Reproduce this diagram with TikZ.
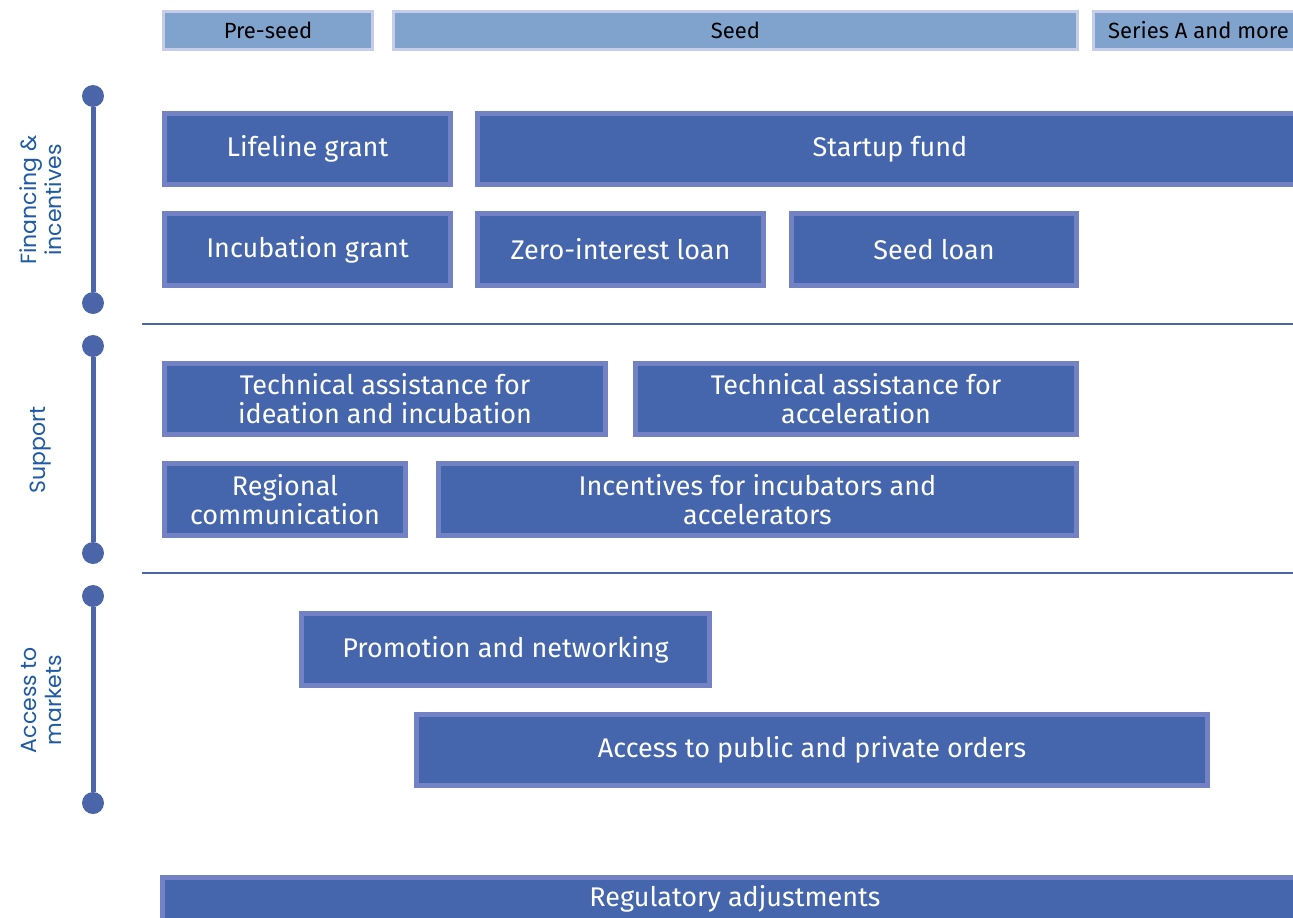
\documentclass[tikz,border=0pt]{standalone}
\usepackage{fontspec}
\setmainfont{Fira Sans}
\newfontfamily\sidefont{Poppins}

\definecolor{boxfill}{RGB}{69,102,172}
\definecolor{boxline}{RGB}{114,130,196}
\definecolor{stagefill}{RGB}{127,163,205}
\definecolor{stageline}{RGB}{197,205,234}
\definecolor{barcol}{RGB}{74,101,168}
\definecolor{labcol}{RGB}{31,90,166}

\tikzset{
  every picture/.style={line width=0.75pt},
  measure/.style={draw=boxline, fill=boxfill, line width=5pt, text=white, align=center,
    inner sep=0pt, font=\fontsize{27}{29}\selectfont},
  stage/.style={draw=stageline, fill=stagefill, line width=3pt, text=black, align=center,
    inner sep=0pt, font=\fontsize{22}{25}\selectfont},
  dot/.style={circle, fill=barcol, inner sep=0pt, minimum size=22pt},
  bar/.style={draw=barcol, line width=5pt},
  sep/.style={draw=barcol, line width=2pt},
  pillar/.style={text=labcol, align=center, rotate=90, font=\sidefont\fontsize{22}{25}\selectfont}
}

\begin{document}
\begin{tikzpicture}[x=1pt,y=1pt,yscale=-1]
\clip (0,0) rectangle (1293,918);
\useasboundingbox (0,0) rectangle (1293,918);

% stages
\node[stage, minimum width=209pt, minimum height=38pt] (preseed) at (268,30.5) {Pre-seed};
\node[stage, minimum width=684pt, minimum height=38pt] (seed) at (735.5,30.5) {Seed};
\node[stage, minimum width=210pt, minimum height=38pt] (seriesa) at (1198.5,30.5) {Series A and more};

% financing and incentives
\node[measure, minimum width=286pt, minimum height=71pt] (lifeline) at (307.5,149) {Lifeline grant};
\node[measure, minimum width=825pt, minimum height=71pt] (startup) at (890,149) {Startup fund};
\node[measure, minimum width=286pt, minimum height=72pt] (incubgrant) at (307.5,249.5) {Incubation grant};
\node[measure, minimum width=286pt, minimum height=72pt] (zeroloan) at (620.5,249.5) {Zero-interest loan};
\node[measure, minimum width=285pt, minimum height=72pt] (seedloan) at (934,249.5) {Seed loan};

% support
\node[measure, minimum width=441pt, minimum height=71pt] (taideation) at (385,399) {Technical assistance for\\ideation and incubation};
\node[measure, minimum width=441pt, minimum height=71pt] (taaccel) at (856,399) {Technical assistance for\\acceleration};
\node[measure, minimum width=241pt, minimum height=72pt] (regional) at (285,499.5) {Regional\\communication};
\node[measure, minimum width=638pt, minimum height=72pt] (incentives) at (757.5,499.5) {Incentives for incubators and\\accelerators};

% access to markets
\node[measure, minimum width=408pt, minimum height=72pt] (promotion) at (505.5,649.5) {Promotion and networking};
\node[measure, minimum width=791pt, minimum height=71pt] (orders) at (812,750) {Access to public and private orders};

% regulatory
\node[measure, minimum width=1145pt, minimum height=71pt] (regulatory) at (735,913) {};
\node[text=white, font=\fontsize{27}{29}\selectfont] (reglabel) at (735,899) {Regulatory adjustments};

% separators
\draw[sep] (142,324) -- (1293,324);
\draw[sep] (142,573) -- (1293,573);

% pillars
\node[dot] (fintop) at (93,96) {};
\node[dot] (finbot) at (93,303) {};
\draw[bar] (fintop) -- (finbot);
\node[dot] (suptop) at (93,346) {};
\node[dot] (supbot) at (93,553) {};
\draw[bar] (suptop) -- (supbot);
\node[dot] (acctop) at (93,596) {};
\node[dot] (accbot) at (93,803) {};
\draw[bar] (acctop) -- (accbot);

\node[pillar] (finlab) at (41,200) {Financing \&\\incentives};
\node[pillar] (suplab) at (41,450) {Support};
\node[pillar] (acclab) at (41,700) {Access to\\markets};
\end{tikzpicture}
\end{document}
